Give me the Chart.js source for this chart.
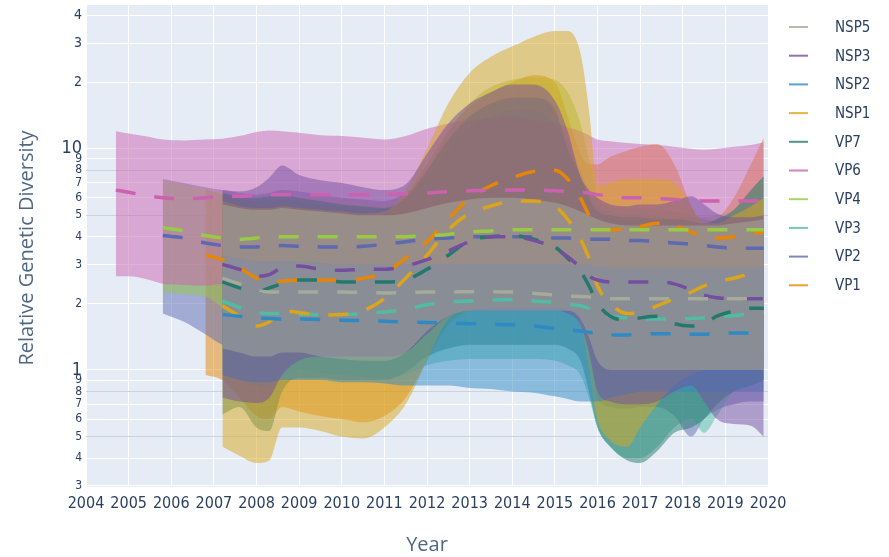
<!DOCTYPE html>
<html>
<head>
<meta charset="utf-8">
<title>Relative Genetic Diversity</title>
<script src="https://cdn.jsdelivr.net/npm/chart.js@4.4.1/dist/chart.umd.min.js"></script>
<style>
  html, body { margin: 0; padding: 0; background: #fff; }
  #wrap { width: 889px; height: 557px; }
</style>
</head>
<body>
<div id="wrap"><canvas id="chart" width="889" height="557"></canvas></div>
<script>
/* =====================================
   Relative genetic diversity by segment
   ===================================== */

// ---- Data ----
// sample years; each series uses the last N of them (N = its array length)
const years = [2004.7, 2005.0, 2005.5, 2005.8, 2006.3, 2006.8, 2007.2, 2007.6, 2008.0, 2008.3,
  2008.6, 2009.0, 2009.5, 2010.0, 2010.5, 2011.0, 2011.5, 2012.0, 2012.5, 2013.0,
  2013.5, 2014.0, 2014.5, 2015.0, 2015.3, 2015.6, 2015.8, 2016.0, 2016.3, 2016.7,
  2017.0, 2017.4, 2017.8, 2018.2, 2018.5, 2018.8, 2019.2, 2019.6, 2019.9];

const yTicks = [0.3, 0.4, 0.5, 0.6, 0.7, 0.8, 0.9, 1, 2, 3, 4, 5, 6, 7, 8, 9, 10, 20, 30, 40];
const xTicks = [2004, 2020];

// NSP5
const nsp5Mid = [2.6, 2.45, 2.3, 2.25, 2.25, 2.25, 2.25, 2.25, 2.24, 2.23, 2.24, 2.25, 2.25, 2.26, 2.26, 2.25, 2.22, 2.18, 2.16, 2.15, 2.14, 2.12, 2.1, 2.1, 2.1, 2.1, 2.1, 2.1, 2.1, 2.1, 2.1, 2.1, 2.1];
const nsp5Hi = [5.6, 5.4, 5.3, 5.3, 5.4, 5.3, 5.2, 5.1, 5.0, 5.0, 5.1, 5.4, 5.7, 5.9, 6.0, 6.0, 5.9, 5.7, 5.5, 5.2, 5.0, 4.8, 4.6, 4.5, 4.5, 4.5, 4.5, 4.5, 4.5, 4.5, 4.6, 4.7, 4.8];
const nsp5Lo = [1.25, 1.2, 1.15, 1.15, 1.2, 1.2, 1.15, 1.12, 1.1, 1.1, 1.2, 1.5, 1.75, 1.85, 1.85, 1.85, 1.85, 1.85, 1.85, 1.7, 1.4, 1.1, 1.0, 1.0, 1.0, 1.0, 1.0, 1.0, 1.0, 1.0, 1.0, 1.0, 1.0];

// NSP3
const nsp3Mid = [3.0, 2.85, 2.65, 2.7, 2.9, 2.95, 2.85, 2.82, 2.85, 2.85, 2.95, 3.15, 3.45, 3.8, 4.0, 4.0, 3.85, 3.55, 3.25, 2.9, 2.65, 2.55, 2.5, 2.5, 2.5, 2.5, 2.45, 2.3, 2.18, 2.12, 2.1, 2.1, 2.1];
const nsp3Hi = [6.5, 6.4, 6.7, 7.4, 8.4, 7.6, 7.2, 7.0, 6.7, 6.5, 6.9, 9.5, 13, 16, 18, 19.5, 19.5, 16.5, 12, 7.5, 6.5, 6.0, 5.6, 5.5, 5.6, 5.6, 5.8, 6.1, 5.6, 5.1, 4.9, 4.9, 5.0];
const nsp3Lo = [0.75, 0.72, 0.71, 0.75, 0.95, 1.1, 1.15, 1.15, 1.15, 1.15, 1.2, 1.45, 1.75, 1.85, 1.85, 1.85, 1.85, 1.85, 1.8, 1.6, 1.2, 0.8, 0.72, 0.7, 0.7, 0.72, 0.8, 0.85, 0.72, 0.6, 0.57, 0.56, 0.5];

// NSP2
const nsp2Mid = [1.78, 1.75, 1.72, 1.71, 1.7, 1.7, 1.69, 1.68, 1.67, 1.66, 1.65, 1.64, 1.63, 1.62, 1.61, 1.6, 1.58, 1.54, 1.52, 1.5, 1.48, 1.46, 1.44, 1.44, 1.45, 1.46, 1.46, 1.45, 1.45, 1.46, 1.47, 1.47, 1.47];
const nsp2Hi = [3.3, 3.2, 3.1, 3.1, 3.1, 3.1, 3.05, 3.0, 3.0, 3.0, 3.0, 3.0, 3.0, 3.0, 3.0, 3.0, 3.0, 3.0, 3.0, 3.0, 3.0, 2.95, 2.9, 2.9, 2.9, 2.9, 2.9, 2.9, 2.9, 2.9, 2.9, 2.9, 2.9];
const nsp2Lo = [0.95, 0.9, 0.88, 0.88, 0.9, 0.9, 0.9, 0.88, 0.88, 0.87, 0.85, 0.85, 0.85, 0.83, 0.82, 0.8, 0.79, 0.76, 0.74, 0.72, 0.72, 0.72, 0.75, 0.78, 0.8, 0.8, 0.8, 0.8, 0.8, 0.8, 0.8, 0.8, 0.8];

// NSP1
const nsp1Mid = [1.95, 1.75, 1.58, 1.65, 1.85, 1.82, 1.77, 1.78, 1.85, 2.1, 2.6, 3.3, 4.3, 5.1, 5.5, 5.8, 5.8, 5.5, 4.8, 3.9, 3.2, 2.4, 2.0, 1.8, 1.82, 1.95, 2.1, 2.25, 2.4, 2.5, 2.6, 2.7, 2.7];
const nsp1Hi = [5.8, 5.5, 5.4, 5.4, 5.5, 5.4, 5.3, 5.2, 5.1, 5.2, 6.5, 10, 16, 22, 26, 29, 32, 34, 34, 27, 15, 6.8, 7.0, 7.3, 7.3, 7.3, 7.0, 5.5, 4.6, 4.6, 5.0, 5.5, 6.0];
const nsp1Lo = [0.45, 0.41, 0.38, 0.39, 0.55, 0.55, 0.53, 0.5, 0.49, 0.55, 0.7, 1.1, 1.7, 1.85, 1.9, 1.9, 1.9, 1.9, 1.85, 1.6, 1.0, 0.6, 0.48, 0.45, 0.55, 0.7, 0.85, 0.95, 1.0, 1.0, 1.0, 1.0, 1.0];

// VP7
const vp7Mid = [2.5, 2.35, 2.25, 2.35, 2.45, 2.55, 2.55, 2.5, 2.5, 2.5, 2.55, 2.85, 3.3, 3.85, 4.0, 4.05, 3.9, 3.6, 3.2, 2.8, 2.4, 2.0, 1.75, 1.68, 1.72, 1.75, 1.62, 1.58, 1.62, 1.75, 1.85, 1.9, 1.9];
const vp7Hi = [6.3, 6.1, 6.0, 6.1, 6.2, 6.0, 5.8, 5.6, 5.5, 5.4, 6.0, 8, 11, 14, 16, 17, 17, 15, 10, 7.5, 6.0, 5.2, 5.0, 4.9, 4.9, 4.8, 4.8, 4.7, 4.6, 4.8, 5.3, 6.5, 7.5];
const vp7Lo = [0.63, 0.68, 0.55, 0.53, 0.8, 0.92, 0.92, 0.9, 0.9, 0.9, 0.98, 1.15, 1.25, 1.3, 1.3, 1.3, 1.3, 1.3, 1.25, 1.1, 0.8, 0.55, 0.45, 0.39, 0.38, 0.43, 0.52, 0.55, 0.6, 0.7, 0.8, 0.85, 0.9];

// VP6
const vp6Mid = [6.5, 6.35, 6.1, 6.0, 5.95, 6.0, 6.1, 6.1, 6.15, 6.2, 6.2, 6.2, 6.2, 6.2, 6.2, 6.2, 6.25, 6.3, 6.4, 6.45, 6.5, 6.5, 6.5, 6.45, 6.4, 6.35, 6.3, 6.2, 6.1, 6.0, 6.0, 5.95, 5.9, 5.85, 5.8, 5.8, 5.8, 5.8, 5.8];
const vp6Hi = [12.0, 11.7, 11.3, 11.0, 10.9, 11.0, 11.1, 11.4, 11.9, 12.1, 12.0, 11.8, 11.5, 11.4, 11.2, 11.0, 11.4, 12.3, 13.0, 13.5, 13.8, 14.0, 13.5, 13.0, 12.5, 12.0, 11.5, 11.0, 10.8, 10.6, 10.5, 10.4, 10.2, 10.0, 9.9, 10.0, 10.2, 10.4, 10.7];
const vp6Lo = [2.65, 2.65, 2.55, 2.45, 2.42, 2.4, 2.45, 2.5, 2.5, 2.5, 2.5, 2.5, 2.5, 2.5, 2.5, 2.5, 2.5, 2.6, 2.7, 2.8, 2.8, 2.8, 2.8, 2.8, 2.8, 2.7, 2.6, 2.5, 2.5, 2.5, 2.5, 2.5, 2.5, 2.5, 2.5, 2.5, 2.5, 2.5, 2.5];

// VP4
const vp4Mid = [4.4, 4.25, 4.05, 3.95, 3.9, 3.95, 4.0, 4.0, 4.0, 4.0, 4.0, 4.0, 4.0, 4.0, 4.05, 4.1, 4.2, 4.25, 4.3, 4.3, 4.3, 4.3, 4.3, 4.3, 4.3, 4.3, 4.3, 4.3, 4.3, 4.3, 4.3, 4.3, 4.3, 4.3, 4.3, 4.3];
const vp4Hi = [7.2, 6.9, 6.6, 6.3, 6.0, 5.9, 6.0, 6.1, 6.0, 5.9, 5.8, 5.7, 5.6, 6.2, 8, 12, 16, 19, 20.5, 21, 20.5, 18, 13, 9, 6.0, 5.5, 5.4, 5.4, 5.3, 5.2, 5.0, 4.9, 5.0, 5.3, 6.5, 7.5];
const vp4Lo = [2.25, 2.2, 2.15, 1.9, 1.5, 1.3, 1.25, 1.3, 1.3, 1.25, 1.2, 1.2, 1.2, 1.3, 1.6, 1.8, 1.9, 1.9, 1.9, 1.9, 1.9, 1.9, 1.8, 1.5, 1.2, 1.1, 1.05, 1.05, 1.05, 1.05, 1.05, 1.05, 1.1, 1.2, 1.2, 1.2];

// VP3
const vp3Mid = [2.05, 1.92, 1.82, 1.8, 1.8, 1.78, 1.78, 1.78, 1.8, 1.83, 1.88, 1.97, 2.03, 2.05, 2.07, 2.08, 2.05, 2.02, 1.98, 1.95, 1.9, 1.83, 1.75, 1.72, 1.7, 1.7, 1.7, 1.71, 1.72, 1.74, 1.76, 1.8, 1.82];
const vp3Hi = [5.0, 4.8, 4.7, 4.7, 4.8, 4.7, 4.6, 4.5, 4.5, 4.5, 4.6, 5.0, 5.5, 6.0, 6.3, 6.5, 6.5, 6.2, 5.8, 5.0, 4.6, 4.3, 4.0, 3.9, 3.9, 3.9, 3.9, 3.9, 3.9, 4.0, 4.2, 4.5, 4.8];
const vp3Lo = [0.95, 0.9, 0.85, 0.85, 0.95, 1.0, 0.97, 0.95, 0.93, 0.92, 0.95, 1.05, 1.1, 1.12, 1.12, 1.12, 1.12, 1.1, 1.05, 0.95, 0.75, 0.55, 0.45, 0.4, 0.4, 0.45, 0.55, 0.6, 0.52, 0.62, 0.8, 0.85, 0.9];

// VP2
const vp2Mid = [4.05, 3.95, 3.75, 3.65, 3.6, 3.6, 3.62, 3.65, 3.62, 3.6, 3.6, 3.62, 3.7, 3.8, 3.9, 3.95, 4.0, 4.0, 4.0, 4.0, 3.95, 3.95, 3.9, 3.9, 3.9, 3.9, 3.85, 3.85, 3.8, 3.75, 3.7, 3.65, 3.6, 3.55, 3.55, 3.55];
const vp2Hi = [7.3, 7.0, 6.7, 6.5, 6.3, 6.2, 6.3, 6.5, 6.4, 6.2, 6.0, 5.9, 5.8, 6.3, 7.5, 10, 12.5, 14, 15, 15, 13, 11, 8, 6.5, 5.5, 5.2, 5.0, 5.0, 4.9, 4.9, 4.9, 4.8, 4.7, 4.7, 4.8, 4.9];
const vp2Lo = [1.8, 1.65, 1.45, 1.3, 1.25, 1.2, 1.2, 1.25, 1.22, 1.2, 1.2, 1.2, 1.2, 1.25, 1.5, 1.75, 1.85, 1.85, 1.85, 1.85, 1.85, 1.85, 1.7, 1.3, 0.75, 0.68, 0.67, 0.68, 0.68, 0.62, 0.5, 0.6, 0.66, 0.7, 0.72, 0.72];

// VP1
const vp1Mid = [3.3, 3.15, 2.9, 2.6, 2.5, 2.52, 2.55, 2.55, 2.55, 2.6, 2.75, 3.2, 3.8, 4.8, 6.0, 6.8, 7.4, 7.9, 8.0, 7.3, 6.0, 5.0, 4.4, 4.3, 4.35, 4.45, 4.6, 4.5, 4.2, 4.0, 3.95, 4.0, 4.15, 4.2];
const vp1Hi = [6.6, 6.2, 5.9, 5.8, 5.8, 5.9, 5.8, 5.6, 5.5, 5.4, 5.4, 6.2, 8.5, 12, 15.5, 18, 20, 21.5, 20, 14, 9.5, 8.5, 8.5, 9.2, 9.8, 10.2, 10.5, 8.5, 5.5, 4.5, 4.8, 6.0, 8.5, 11.2];
const vp1Lo = [0.95, 0.9, 0.75, 0.62, 0.6, 0.68, 0.65, 0.62, 0.6, 0.58, 0.62, 0.75, 1.1, 1.6, 1.85, 1.9, 1.9, 1.9, 1.9, 1.85, 1.7, 1.4, 1.1, 1.0, 1.0, 1.05, 1.1, 1.15, 1.15, 1.15, 1.2, 1.3, 1.4, 1.5];

// legend order; also draw order (first = on top)
const names  = ['NSP5', 'NSP3', 'NSP2', 'NSP1', 'VP7', 'VP6', 'VP4', 'VP3', 'VP2', 'VP1'];
const colors = ['rgb(165,170,153)', 'rgb(118,78,159)', 'rgb(47,138,196)', 'rgb(218,165,27)', 'rgb(36,121,108)',
                'rgb(204,97,176)', 'rgb(153,201,69)', 'rgb(82,188,163)', 'rgb(93,105,177)', 'rgb(229,134,6)'];
const mids = [nsp5Mid, nsp3Mid, nsp2Mid, nsp1Mid, vp7Mid, vp6Mid, vp4Mid, vp3Mid, vp2Mid, vp1Mid];
const his  = [nsp5Hi, nsp3Hi, nsp2Hi, nsp1Hi, vp7Hi, vp6Hi, vp4Hi, vp3Hi, vp2Hi, vp1Hi];
const los  = [nsp5Lo, nsp3Lo, nsp2Lo, nsp1Lo, vp7Lo, vp6Lo, vp4Lo, vp3Lo, vp2Lo, vp1Lo];

// ---- Helpers ----
function pts(vals) {
  const xs = years.slice(years.length - vals.length);
  return vals.map((v, i) => ({ x: xs[i], y: v }));
}
function alpha(c, a) {
  return c.replace('rgb(', 'rgba(').replace(')', ',' + a + ')');
}

const datasets = [];
// median lines
names.forEach((n, i) => {
  datasets.push({
    label: n,
    data: pts(mids[i]),
    borderColor: colors[i],
    borderWidth: 3.5,
    borderDash: [20, 19],
    fill: false,
    pointRadius: 0,
    cubicInterpolationMode: 'monotone',
  });
});
// bands (upper edge, then lower edge filled to it)
names.forEach((n, i) => {
  datasets.push({
    label: n + ' upper',
    data: pts(his[i]),
    borderWidth: 0,
    borderColor: 'transparent',
    fill: false,
    pointRadius: 0,
    cubicInterpolationMode: 'monotone',
  });
  datasets.push({
    label: n + ' lower',
    data: pts(los[i]),
    borderWidth: 0,
    borderColor: 'transparent',
    backgroundColor: alpha(colors[i], 0.5),
    fill: '-1',
    pointRadius: 0,
    cubicInterpolationMode: 'monotone',
  });
});

// ---- Background, titles and legend ----
const TEXT = '#2a3f5f';
const NARROW = '"Liberation Sans Narrow", "DejaVu Sans Condensed", sans-serif';
const decor = {
  id: 'decor',
  beforeDraw(chart) {
    const { ctx, chartArea: a } = chart;
    ctx.save();
    ctx.fillStyle = '#E5ECF6';
    ctx.fillRect(a.left, a.top, a.right - a.left, a.bottom - a.top);
    ctx.restore();
  },
  afterDraw(chart) {
    const ctx = chart.ctx;
    ctx.save();
    ctx.fillStyle = '#506784';
    ctx.font = '20px "Open Sans", sans-serif';
    ctx.textAlign = 'center';
    ctx.textBaseline = 'middle';
    ctx.fillText('Year', 427, 545);
    ctx.translate(27, 248);
    ctx.rotate(-Math.PI / 2);
    ctx.fillText('Relative Genetic Diversity', 0, 0);
    ctx.restore();

    // legend
    ctx.save();
    ctx.font = '15px ' + NARROW;
    ctx.textAlign = 'left';
    ctx.textBaseline = 'middle';
    names.forEach((n, i) => {
      const y = 27 + i * 28.7;
      ctx.strokeStyle = alpha(colors[i], 0.8);
      ctx.lineWidth = 2;
      ctx.beginPath();
      ctx.moveTo(789, y);
      ctx.lineTo(808, y);
      ctx.stroke();
      ctx.fillStyle = TEXT;
      ctx.fillText(n, 835, y + 1);
    });
    ctx.restore();
  }
};

// ---- Chart ----
const grayGrid = [0.5, 0.8, 5, 8];

new Chart(document.getElementById('chart'), {
  type: 'line',
  data: { datasets },
  plugins: [decor],
  options: {
    responsive: false,
    devicePixelRatio: 1,
    animation: false,
    layout: { padding: { left: 0, top: 5, right: 121, bottom: 0 } },
    plugins: {
      legend: { display: false },
      tooltip: { enabled: false },
    },
    scales: {
      x: {
        type: 'linear',
        min: xTicks[0],
        max: xTicks[1],
        grid: { color: '#ffffff', drawTicks: false, lineWidth: 1 },
        border: { display: false },
        ticks: {
          stepSize: 1,
          autoSkip: false,
          maxRotation: 0,
          padding: 7,
          color: TEXT,
          font: { family: NARROW, size: 16 },
          callback: v => String(v),
        },
        afterFit: s => { s.height = 70; s.paddingLeft = 0; s.paddingRight = 0; },
      },
      y: {
        type: 'logarithmic',
        min: 0.296,
        max: 44.6,
        afterBuildTicks: s => { s.ticks = yTicks.map(v => ({ value: v })); },
        grid: {
          drawTicks: false,
          lineWidth: 1,
          color: c => grayGrid.includes(c.tick && c.tick.value) ? '#cdd3dc' : '#ffffff',
        },
        border: { display: false },
        ticks: {
          autoSkip: false,
          padding: 4,
          color: TEXT,
          font: c => {
            const v = c.tick ? c.tick.value : 1;
            if (v === 1 || v === 10) return { family: NARROW, size: 18 };
            if (v > 10) return { family: NARROW, size: 14 };
            return { family: NARROW, size: 12 };
          },
          callback: v => {
            if (v === 1 || v === 10) return String(v);
            const m = v > 10 ? v / 10 : v < 1 ? v * 10 : v;
            return String(Math.round(m));
          },
        },
        afterFit: s => { s.width = 86; s.paddingTop = 0; s.paddingBottom = 0; },
      },
    },
  },
});
</script>
</body>
</html>
